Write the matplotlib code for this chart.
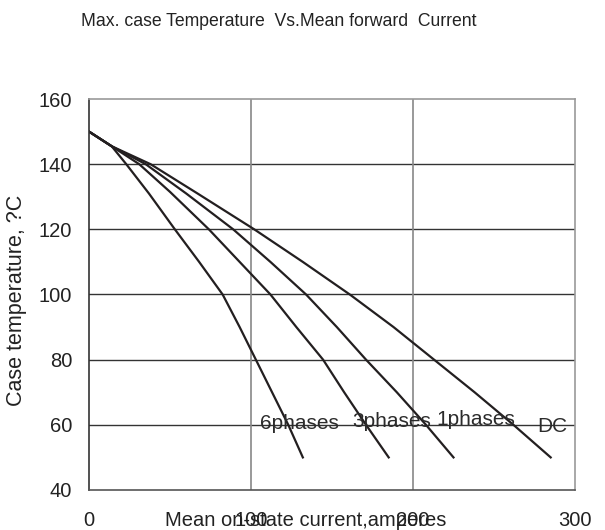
import matplotlib
matplotlib.use("Agg")
import matplotlib.pyplot as plt

# ---------------------------
# DATA
# ---------------------------

x_6phases = [0, 14, 23, 37, 53, 68, 82.5, 93, 103, 113, 123, 132]
y_6phases = [150, 145.5, 140, 131, 120, 110, 100, 90, 80, 70, 60, 50]

x_3phases = [0, 14, 31, 50, 74, 93, 112, 128, 144.5, 157.5, 171, 185]
y_3phases = [150, 145.5, 140, 131.5, 120, 110, 100, 90, 80, 70, 60, 50]

x_1phases = [0, 14, 35, 60, 89, 112, 134, 153, 171, 190, 208, 225]
y_1phases = [150, 145.5, 140, 131, 120, 110, 100, 90, 80, 70, 60, 50]

x_dc = [0, 14, 38, 67, 102, 132, 161, 188, 213, 238, 262, 285]
y_dc = [150, 145.5, 140, 131, 120, 110, 100, 90, 80, 70, 60, 50]

label_names = ["6phases", "3phases", "1phases", "DC"]
label_x = [130, 187, 239, 286]
label_y = [60.3, 61, 61.5, 59.6]

x_ticks = [0, 100, 200, 300]
y_ticks = [40, 60, 80, 100, 120, 140, 160]

# ---------------------------
# PLOT
# ---------------------------

plt.rcParams["font.family"] = ["Liberation Sans", "DejaVu Sans"]

fig = plt.figure(figsize=(6.05, 5.3), dpi=100)
ax = fig.add_axes([0.1471, 0.0755, 0.8033, 0.7377])

line_col = "#231f20"
for xs, ys in [(x_6phases, y_6phases), (x_3phases, y_3phases),
               (x_1phases, y_1phases), (x_dc, y_dc)]:
    ax.plot(xs, ys, color=line_col, lw=1.6, solid_joinstyle="round")

for name, lx, ly in zip(label_names, label_x, label_y):
    ax.text(lx, ly, name, ha="center", va="center", fontsize=15, color="#2b2b2b")

ax.set_xlim(0, 300)
ax.set_ylim(40, 160)
ax.set_xticks(x_ticks)
ax.set_yticks(y_ticks)
ax.tick_params(axis="both", length=0, labelsize=14.5, colors="#222222")
ax.tick_params(axis="x", pad=15)
ax.tick_params(axis="y", pad=12)

# grid: dark horizontal, grey vertical
for yv in y_ticks[1:-1]:
    ax.axhline(yv, color="#333333", lw=1.0, zorder=0)
for xv in x_ticks[1:-1]:
    ax.axvline(xv, color="#888888", lw=1.2, zorder=0)

ax.spines["left"].set_color("#333333")
ax.spines["bottom"].set_color("#555555")
ax.spines["top"].set_color("#999999")
ax.spines["right"].set_color("#999999")
for s in ax.spines.values():
    s.set_linewidth(1.2)

ax.set_ylabel("Case temperature, ?C", fontsize=15.5, color="#222222", va="center")
ax.yaxis.set_label_coords(-0.150, 0.486)
ax.set_xlabel("Mean on-state current,amperes", fontsize=14.5, color="#222222", va="center")
ax.xaxis.set_label_coords(0.445, -0.077)

fig.text(279 / 605, 1 - 22 / 530, "Max. case Temperature  Vs.Mean forward  Current",
         ha="center", va="center", fontsize=12.7, color="#222222")

fig.savefig("out.png", dpi=100)
